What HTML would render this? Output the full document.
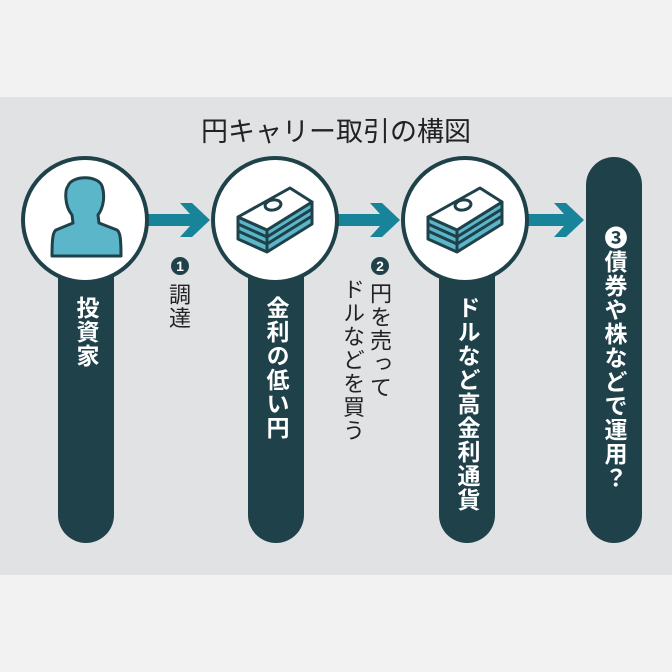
<!DOCTYPE html>
<html><head><meta charset="utf-8"><style>
html,body{margin:0;padding:0;}
body{width:672px;height:672px;background:#f2f2f2;position:relative;overflow:hidden;font-family:"Liberation Sans","Noto Sans CJK JP",sans-serif;}
.band{position:absolute;left:0;top:97px;width:672px;height:478px;background:#e1e2e4;}
.title{position:absolute;left:0;width:672px;top:110px;text-align:center;font-size:27px;color:#222;font-weight:400;}
.v{position:absolute;writing-mode:vertical-rl;text-orientation:upright;}
.pl{color:#fff;font-weight:bold;font-size:23px;line-height:28px;letter-spacing:1px;}
.sl{color:#222;font-size:22px;line-height:26px;letter-spacing:1.5px;font-weight:400;font-family:"Noto Sans CJK JP",sans-serif;}
</style></head><body>
<div class="band"></div>
<div class="title">円キャリー取引の構図</div>
<svg width="672" height="672" style="position:absolute;left:0;top:0">
<g fill="#1f414a">
<rect x="58" y="230" width="56" height="313" rx="28"/>
<rect x="248" y="230" width="56" height="313" rx="28"/>
<rect x="439" y="230" width="56" height="313" rx="28"/>
<rect x="586" y="157" width="56" height="386" rx="28"/>
<circle cx="180" cy="266" r="9"/>
<circle cx="380" cy="266" r="9"/>
</g>
<g fill="#fff" font-family="Liberation Sans" font-weight="bold" font-size="14" text-anchor="middle">
<text x="180" y="271">1</text>
<text x="380" y="271">2</text>
</g>
<g fill="#17849a">
<polygon points="148,214 190,214 180,203 192,203 210,220 192,237 180,237 190,226 148,226"/>
<polygon points="338,214 380,214 370,203 382,203 400,220 382,237 370,237 380,226 338,226"/>
<polygon points="528,214 564,214 554,203 566,203 584,220 566,237 554,237 564,226 528,226"/>
</g>
<g fill="#fff" stroke="#1f414a" stroke-width="4">
<circle cx="85" cy="220" r="62"/>
<circle cx="275" cy="220" r="62"/>
<circle cx="465" cy="220" r="62"/>
</g>
<path d="M72,215 C64,205 65,190 68,186 C72,175 98,175 102,186 C105,195 104,207 98,215 L99,223 L117,230 C120,232 121,238 121,256 L52,256 C52,238 53,232 56,230 L73,223 Z" fill="#5cb6c9" stroke="#1f414a" stroke-width="3" stroke-linejoin="round"/>
<g id="m" stroke="#1f414a" stroke-width="3" stroke-linejoin="round">
<polygon points="238,217 238,239 267,252 312,224 312,202 267,230" fill="#5cb6c9"/>
<polyline points="238,224 267,237 312,209" fill="none" stroke-width="3"/>
<polyline points="238,231 267,244 312,216" fill="none" stroke-width="3"/>
<polygon points="238,217 290,188 312,202 267,230" fill="#fff"/>
<ellipse cx="273" cy="205" rx="8" ry="5" fill="#fff" transform="rotate(-10 273 205)"/>
<line x1="267" y1="230" x2="267" y2="252"/>
</g>
<use href="#m" x="190" y="0"/>
</svg>
<div class="v pl" style="left:72px;top:296px;">投資家</div>
<div class="v pl" style="left:262px;top:296px;">金利の低い円</div>
<div class="v pl" style="left:453px;top:296px;">ドルなど高金利通貨</div>
<div class="v pl" style="left:600px;top:226px;">❸債券や株などで運用？</div>
<div class="v sl" style="left:167px;top:283px;">調達</div>
<div class="v sl" style="left:368px;top:282px;">円を売って</div>
<div class="v sl" style="left:341px;top:278px;">ドルなどを買う</div>
</body></html>
